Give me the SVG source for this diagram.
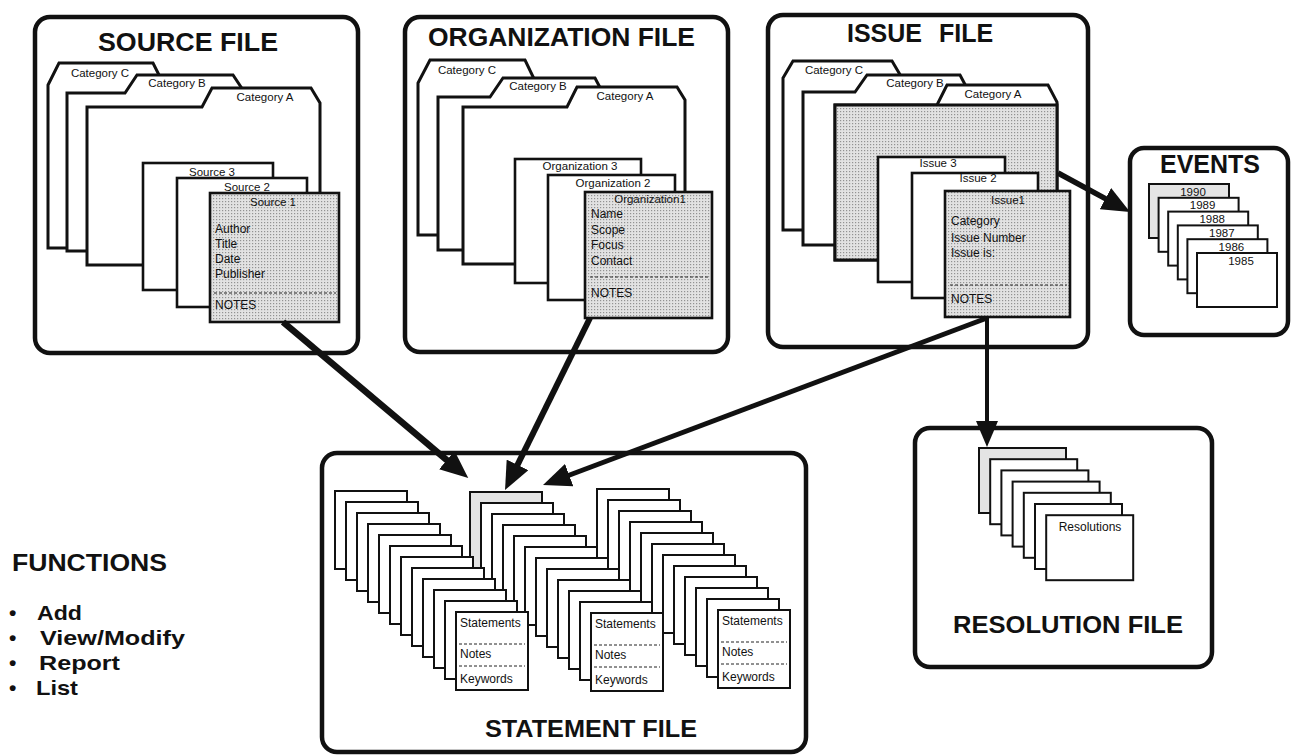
<svg xmlns="http://www.w3.org/2000/svg" width="1292" height="756" viewBox="0 0 1292 756">
<style>
.bg{fill:#fff}
.panel{fill:#fff;stroke:#111;stroke-width:4.5}
.fold{fill:#fff;stroke:#111;stroke-width:3;stroke-linejoin:miter}
.card{fill:#fff;stroke:#111;stroke-width:2.6}
.scard{fill:#fff;stroke:#111;stroke-width:2}
.shade{fill:url(#dots)}
.light{fill:#e4e4e4}
.t{font-family:"Liberation Sans",Arial,Helvetica,sans-serif;fill:#111}
.title{font-size:25px;font-weight:bold}
.lbl{font-size:11.5px}
.fld{font-size:12px}
.fn{font-size:24px;font-weight:bold}
.fb{font-size:21px;font-weight:bold}
.dash{stroke:#222;stroke-width:1;stroke-dasharray:3 2;fill:none}
.conn{stroke:#111;fill:none;stroke-linecap:butt}
</style>
<defs>
<pattern id="dots" width="3" height="3" patternUnits="userSpaceOnUse">
<rect width="3" height="3" fill="#e2e2e2"/>
<rect width="1.2" height="1.2" fill="#929292"/>
</pattern>
<marker id="ah" viewBox="0 0 28 24" refX="1" refY="12" markerWidth="28" markerHeight="24" markerUnits="userSpaceOnUse" orient="auto">
<path d="M0,0 L28,12 L0,24 z" fill="#111"/>
</marker>
<marker id="ah2" viewBox="0 0 26 22" refX="1" refY="11" markerWidth="26" markerHeight="22" markerUnits="userSpaceOnUse" orient="auto">
<path d="M0,0 L26,11 L0,22 z" fill="#111"/>
</marker>
</defs>
<rect class="bg" x="0" y="0" width="1292" height="756"/>

<!-- SOURCE FILE -->
<g id="source-file">
<rect class="panel" x="35" y="17" width="323" height="336" rx="15"/>
<text class="t title" x="98" y="51" textLength="180" lengthAdjust="spacingAndGlyphs">SOURCE FILE</text>
<polygon class="fold" points="48,85 59,63 153,63 164,85 230,85 230,248 48,248"/>
<polygon class="fold" points="67,93 125,93 137,75 233,75 245,93 300,93 300,251 67,251"/>
<polygon class="fold" points="87,107 202,107 212,88 311,88 320,103 320,265 87,265"/>
<text class="t lbl" x="100" y="77" text-anchor="middle">Category C</text>
<text class="t lbl" x="177" y="87" text-anchor="middle">Category B</text>
<text class="t lbl" x="265" y="101" text-anchor="middle">Category A</text>
<rect class="card" x="143" y="163" width="130" height="127"/>
<text class="t lbl" x="212" y="176" text-anchor="middle">Source 3</text>
<rect class="card" x="177" y="178" width="130" height="129"/>
<text class="t lbl" x="247" y="191" text-anchor="middle">Source 2</text>
<rect class="card shade" x="210" y="193" width="129" height="129"/>
<text class="t lbl" x="273" y="206" text-anchor="middle">Source 1</text>
<text class="t fld" x="215" y="233">Author</text>
<text class="t fld" x="215" y="248">Title</text>
<text class="t fld" x="215" y="263">Date</text>
<text class="t fld" x="215" y="278">Publisher</text>
<line class="dash" x1="214" y1="293" x2="336" y2="293"/>
<text class="t fld" x="215" y="309">NOTES</text>
</g>

<!-- ORGANIZATION FILE -->
<g id="organization-file">
<rect class="panel" x="405" y="17" width="323" height="335" rx="15"/>
<text class="t title" x="428" y="46" textLength="267" lengthAdjust="spacingAndGlyphs">ORGANIZATION FILE</text>
<polygon class="fold" points="418,83 430,60 525,60 536,83 590,83 590,235 418,235"/>
<polygon class="fold" points="438,97 490,97 503,78 595,78 605,97 660,97 660,250 438,250"/>
<polygon class="fold" points="463,107 567,107 577,87 677,87 685,100 685,264 463,264"/>
<text class="t lbl" x="467" y="74" text-anchor="middle">Category C</text>
<text class="t lbl" x="538" y="90" text-anchor="middle">Category B</text>
<text class="t lbl" x="625" y="100" text-anchor="middle">Category A</text>
<rect class="card" x="515" y="159" width="126" height="124"/>
<text class="t lbl" x="580" y="170" text-anchor="middle">Organization 3</text>
<rect class="card" x="548" y="175" width="127" height="125"/>
<text class="t lbl" x="613" y="187" text-anchor="middle">Organization 2</text>
<rect class="card shade" x="585" y="192" width="127" height="126"/>
<text class="t lbl" x="650" y="203" text-anchor="middle">Organization1</text>
<text class="t fld" x="591" y="218">Name</text>
<text class="t fld" x="591" y="234">Scope</text>
<text class="t fld" x="591" y="249">Focus</text>
<text class="t fld" x="591" y="265">Contact</text>
<line class="dash" x1="590" y1="277" x2="709" y2="277"/>
<text class="t fld" x="591" y="297">NOTES</text>
</g>

<!-- ISSUE FILE -->
<g id="issue-file">
<rect class="panel" x="768" y="15" width="320" height="332" rx="15"/>
<text class="t title" x="847" y="42">ISSUE <tspan dx="10">FILE</tspan></text>
<polygon class="fold" points="783,78 793,61 892,61 902,78 950,78 950,230 783,230"/>
<polygon class="fold" points="803,92 855,92 867,75 960,75 969,92 1030,92 1030,245 803,245"/>
<polygon class="fold" points="835,105 937,105 947,85 1048,85 1057,102 1057,260 835,260"/>
<rect class="fold shade" x="835" y="105" width="222" height="155"/>
<text class="t lbl" x="834" y="74" text-anchor="middle">Category C</text>
<text class="t lbl" x="915" y="87" text-anchor="middle">Category B</text>
<text class="t lbl" x="993" y="98" text-anchor="middle">Category A</text>
<rect class="card" x="878" y="157" width="127" height="125"/>
<text class="t lbl" x="938" y="167" text-anchor="middle">Issue 3</text>
<rect class="card" x="912" y="173" width="126" height="125"/>
<text class="t lbl" x="978" y="182" text-anchor="middle">Issue 2</text>
<rect class="card shade" x="945" y="191" width="125" height="126"/>
<text class="t lbl" x="1008" y="204" text-anchor="middle">Issue1</text>
<text class="t fld" x="951" y="225">Category</text>
<text class="t fld" x="951" y="242">Issue Number</text>
<text class="t fld" x="951" y="257">Issue is:</text>
<line class="dash" x1="950" y1="285" x2="1067" y2="285"/>
<text class="t fld" x="951" y="303">NOTES</text>
</g>

<!-- EVENTS -->
<g id="events">
<rect class="panel" x="1130" y="148" width="158" height="187" rx="14"/>
<text class="t title" x="1160" y="173" textLength="100" lengthAdjust="spacingAndGlyphs">EVENTS</text>
<rect class="scard light" x="1149" y="184" width="80" height="54"/>
<text class="t lbl" x="1193" y="195.5" text-anchor="middle">1990</text>
<rect class="scard" x="1158.6" y="197.8" width="80" height="54"/>
<text class="t lbl" x="1202.6" y="209.3" text-anchor="middle">1989</text>
<rect class="scard" x="1168.2" y="211.6" width="80" height="54"/>
<text class="t lbl" x="1212.2" y="223.1" text-anchor="middle">1988</text>
<rect class="scard" x="1177.8" y="225.4" width="80" height="54"/>
<text class="t lbl" x="1221.8" y="236.9" text-anchor="middle">1987</text>
<rect class="scard" x="1187.4" y="239.2" width="80" height="54"/>
<text class="t lbl" x="1231.4" y="250.7" text-anchor="middle">1986</text>
<rect class="scard" x="1197" y="253" width="80" height="54"/>
<text class="t lbl" x="1241" y="264.5" text-anchor="middle">1985</text>
</g>

<!-- STATEMENT FILE -->
<g id="statement-file">
<rect class="panel" x="322" y="453" width="484" height="299" rx="15"/>
<text class="t title" x="485" y="737" style="font-size:23px" textLength="212" lengthAdjust="spacingAndGlyphs">STATEMENT FILE</text>
<g id="stack-3">
<rect class="scard" x="597" y="489" width="72" height="78"/>
<rect class="scard" x="608" y="500" width="72" height="78"/>
<rect class="scard" x="619" y="511" width="72" height="78"/>
<rect class="scard" x="630" y="522" width="72" height="78"/>
<rect class="scard" x="641" y="533" width="72" height="78"/>
<rect class="scard" x="652" y="544" width="72" height="78"/>
<rect class="scard" x="663" y="555" width="72" height="78"/>
<rect class="scard" x="674" y="566" width="72" height="78"/>
<rect class="scard" x="685" y="577" width="72" height="78"/>
<rect class="scard" x="696" y="588" width="72" height="78"/>
<rect class="scard" x="707" y="599" width="72" height="78"/>
<rect class="scard" x="718" y="610" width="72" height="78"/>
<text class="t fld" x="722" y="625">Statements</text>
<line class="dash" x1="721" y1="642" x2="787" y2="642"/>
<text class="t fld" x="722" y="656">Notes</text>
<line class="dash" x1="721" y1="664" x2="787" y2="664"/>
<text class="t fld" x="722" y="681">Keywords</text>
</g>
<g id="stack-2">
<rect class="scard light" x="470" y="492" width="72" height="78"/>
<rect class="scard" x="481" y="503" width="72" height="78"/>
<rect class="scard" x="492" y="514" width="72" height="78"/>
<rect class="scard" x="503" y="525" width="72" height="78"/>
<rect class="scard" x="514" y="536" width="72" height="78"/>
<rect class="scard" x="525" y="547" width="72" height="78"/>
<rect class="scard" x="536" y="558" width="72" height="78"/>
<rect class="scard" x="547" y="569" width="72" height="78"/>
<rect class="scard" x="558" y="580" width="72" height="78"/>
<rect class="scard" x="569" y="591" width="72" height="78"/>
<rect class="scard" x="580" y="602" width="72" height="78"/>
<rect class="scard" x="591" y="613" width="72" height="78"/>
<text class="t fld" x="595" y="628">Statements</text>
<line class="dash" x1="594" y1="645" x2="660" y2="645"/>
<text class="t fld" x="595" y="659">Notes</text>
<line class="dash" x1="594" y1="667" x2="660" y2="667"/>
<text class="t fld" x="595" y="684">Keywords</text>
</g>
<g id="stack-1">
<rect class="scard" x="335" y="491" width="72" height="78"/>
<rect class="scard" x="346" y="502" width="72" height="78"/>
<rect class="scard" x="357" y="513" width="72" height="78"/>
<rect class="scard" x="368" y="524" width="72" height="78"/>
<rect class="scard" x="379" y="535" width="72" height="78"/>
<rect class="scard" x="390" y="546" width="72" height="78"/>
<rect class="scard" x="401" y="557" width="72" height="78"/>
<rect class="scard" x="412" y="568" width="72" height="78"/>
<rect class="scard" x="423" y="579" width="72" height="78"/>
<rect class="scard" x="434" y="590" width="72" height="78"/>
<rect class="scard" x="445" y="601" width="72" height="78"/>
<rect class="scard" x="456" y="612" width="72" height="78"/>
<text class="t fld" x="460" y="627">Statements</text>
<line class="dash" x1="459" y1="644" x2="525" y2="644"/>
<text class="t fld" x="460" y="658">Notes</text>
<line class="dash" x1="459" y1="666" x2="525" y2="666"/>
<text class="t fld" x="460" y="683">Keywords</text>
</g>
</g>

<!-- RESOLUTION FILE -->
<g id="resolution-file">
<rect class="panel" x="915" y="428" width="297" height="239" rx="15"/>
<text class="t title" x="953" y="633" style="font-size:24px" textLength="230" lengthAdjust="spacingAndGlyphs">RESOLUTION FILE</text>
<rect class="scard light" x="979" y="448" width="87" height="65"/>
<rect class="scard" x="990.2" y="459.2" width="87" height="65"/>
<rect class="scard" x="1001.4" y="470.4" width="87" height="65"/>
<rect class="scard" x="1012.6" y="481.6" width="87" height="65"/>
<rect class="scard" x="1023.8" y="492.8" width="87" height="65"/>
<rect class="scard" x="1035" y="504" width="87" height="65"/>
<rect class="scard" x="1046.2" y="515.2" width="87" height="65"/>
<text class="t fld" x="1090" y="531" text-anchor="middle">Resolutions</text>
</g>

<!-- FUNCTIONS -->
<g id="functions">
<text class="t fn" x="12" y="571" textLength="155" lengthAdjust="spacingAndGlyphs">FUNCTIONS</text>
<text class="t fb" x="9" y="620">•<tspan x="37" textLength="45" lengthAdjust="spacingAndGlyphs">Add</tspan></text>
<text class="t fb" x="9" y="645">•<tspan x="40" textLength="145" lengthAdjust="spacingAndGlyphs">View/Modify</tspan></text>
<text class="t fb" x="9" y="670">•<tspan x="39" textLength="81" lengthAdjust="spacingAndGlyphs">Report</tspan></text>
<text class="t fb" x="9" y="695">•<tspan x="36" textLength="42" lengthAdjust="spacingAndGlyphs">List</tspan></text>
</g>

<!-- CONNECTORS -->
<g id="connectors">
<line class="conn" x1="283" y1="322" x2="447.6" y2="460.7" stroke-width="6.5" marker-end="url(#ah)"/>
<line class="conn" x1="590" y1="318" x2="517" y2="465.8" stroke-width="6" marker-end="url(#ah)"/>
<line class="conn" x1="987" y1="318" x2="568.3" y2="475.5" stroke-width="5" marker-end="url(#ah)"/>
<line class="conn" x1="1058" y1="173" x2="1106.3" y2="199.1" stroke-width="5.5" marker-end="url(#ah)"/>
<line class="conn" x1="987" y1="318" x2="987" y2="422" stroke-width="4" marker-end="url(#ah2)"/>
</g>
</svg>
